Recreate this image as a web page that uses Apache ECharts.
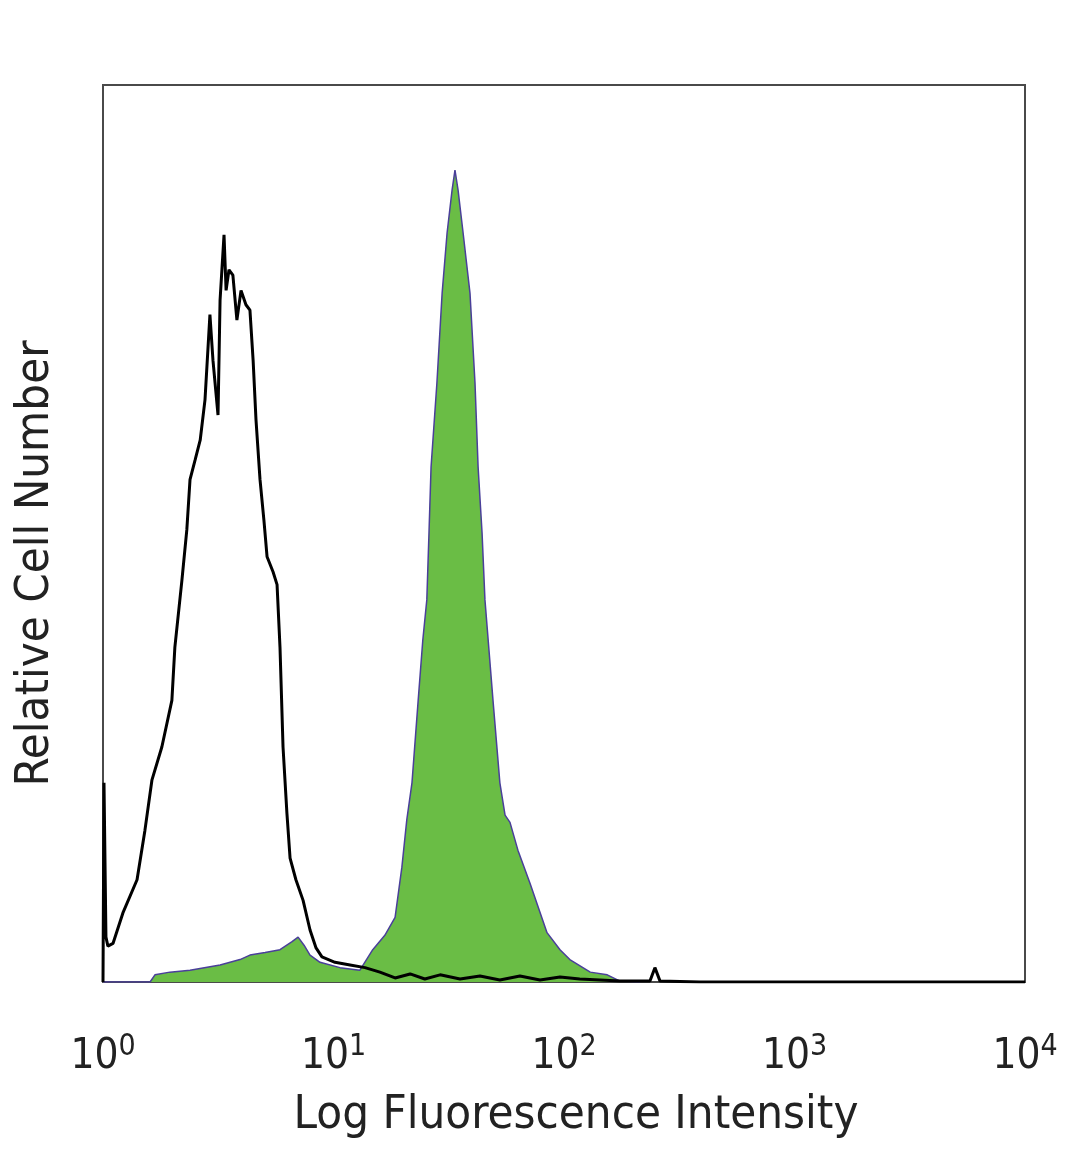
<!DOCTYPE html>
<html>
<head>
<meta charset="utf-8">
<title>Log Fluorescence Intensity</title>
<script src="https://cdn.jsdelivr.net/npm/echarts@6/dist/echarts.min.js"></script>
<style>
  html, body { margin: 0; padding: 0; background: #fff; }
  #chart { width: 1080px; height: 1169px; }
</style>
</head>
<body>
<div id="chart"></div>
<script>
// isotype control (black outline)
const isotypeX = [1, 1.01, 1.03, 1.05, 1.105, 1.22, 1.405, 1.52, 1.63, 1.80, 1.99, 2.05, 2.20, 2.31, 2.385,
  2.51, 2.64, 2.77, 2.91, 3.00, 3.155, 3.22, 3.35, 3.42, 3.52, 3.66, 3.81, 3.97, 4.17, 4.34, 4.48, 4.61,
  4.80, 4.99, 5.15, 5.47, 5.69, 5.86, 6.04, 6.28, 6.48, 6.87, 7.38, 7.91, 8.40, 8.91, 10.15, 11.8, 13.7,
  15.9, 18.5, 21.5, 24.9, 29.0, 35.4, 43.2, 52.7, 64.4, 78.7, 96.1, 117, 143, 175, 236, 248, 261, 389, 10000];
const isotypeY = [0, 22.2, 5.0, 4.0, 4.3, 7.7, 11.4, 16.9, 22.5, 26.2, 31.4, 37.3, 44.8, 50.4, 56.0,
  58.2, 60.4, 64.9, 74.4, 69.3, 63.2, 76.0, 83.3, 77.1, 79.4, 78.8, 73.8, 77.1, 75.5, 74.9, 69.3, 62.7,
  56.0, 51.5, 47.4, 45.7, 44.3, 37.3, 26.2, 18.8, 13.8, 11.4, 9.1, 5.8, 3.8, 2.8, 2.2, 1.9, 1.6,
  1.1, 0.45, 0.9, 0.33, 0.8, 0.33, 0.67, 0.22, 0.67, 0.22, 0.56, 0.33, 0.22, 0.1, 0.1, 1.6, 0.1, 0, 0];

// stained sample (green filled)
const stainedX = [1, 1.60, 1.68, 1.95, 2.385, 3.22, 3.93, 4.34, 5.05, 5.86, 6.61, 7.02, 7.45, 7.91, 8.74,
  10.67, 13.0, 14.8, 16.7, 18.5, 19.8, 20.8, 21.9, 23.3, 24.4, 25.4, 25.96, 26.5, 28.1, 29.6, 31.1, 32.7,
  33.65, 34.7, 36.5, 39.1, 41.1, 42.4, 44.1, 45.4, 49.2, 52.7, 55.5, 58.3, 63.1, 71.2, 84.4, 96.1, 106,
  130, 154, 175, 214];
const stainedY = [0, 0, 0.8, 1.1, 1.3, 1.9, 2.5, 3.0, 3.3, 3.6, 4.5, 5.0, 4.1, 3.0, 2.2,
  1.6, 1.3, 3.6, 5.2, 7.2, 12.8, 18.1, 22.2, 31.4, 38.1, 42.6, 50.1, 57.4, 66.8, 76.8, 83.5, 88.3,
  90.5, 88.3, 83.5, 76.8, 66.8, 57.4, 50.1, 42.6, 31.4, 22.2, 18.6, 17.8, 14.7, 11.0, 5.5, 3.6, 2.5,
  1.1, 0.8, 0.1, 0];

const tickExponents = ['0', '1', '2', '3', '4'];

const zip = (xs, ys) => xs.map((x, i) => [x, ys[i]]);

const chart = echarts.init(document.getElementById('chart'));

const labelFont = "'Liberation Sans Narrow', 'DejaVu Sans Condensed', 'Liberation Sans', sans-serif";

chart.setOption({
  animation: false,
  backgroundColor: '#fff',
  grid: {
    left: 103,
    right: 55,
    top: 85,
    bottom: 187,
    outerBoundsMode: 'none',
    containLabel: false,
    show: true,
    borderColor: '#4a4a4a',
    borderWidth: 2,
    backgroundColor: 'transparent'
  },
  xAxis: {
    type: 'log',
    logBase: 10,
    min: 1,
    max: 10000,
    axisLine: { show: false },
    axisTick: { show: false },
    splitLine: { show: false },
    axisLabel: {
      margin: 50,
      formatter: (v) => {
        const e = Math.round(Math.log10(v));
        return '{b|10}{s|' + tickExponents[e] + '}';
      },
      rich: {
        b: { fontFamily: labelFont, fontSize: 42, color: '#222' },
        s: { fontFamily: labelFont, fontSize: 30, color: '#222', padding: [0, 0, 20, 0] }
      }
    },
    name: 'Log Fluorescence Intensity',
    nameLocation: 'middle',
    nameGap: 110,
    nameTextStyle: {
      fontFamily: labelFont,
      fontSize: 47,
      color: '#222',
      padding: [0, 0, 0, 24]
    }
  },
  yAxis: {
    type: 'value',
    min: 0,
    max: 100,
    axisLine: { show: false },
    axisTick: { show: false },
    axisLabel: { show: false },
    splitLine: { show: false },
    name: 'Relative Cell Number',
    nameLocation: 'middle',
    nameGap: 44,
    nameTextStyle: {
      fontFamily: labelFont,
      fontSize: 47,
      color: '#222',
      padding: [0, 60, 0, 0]
    }
  },
  series: [
    {
      name: 'stained',
      type: 'line',
      data: zip(stainedX, stainedY),
      showSymbol: false,
      lineStyle: { color: '#4a3f9a', width: 1.5 },
      areaStyle: { color: '#6abd45', opacity: 1 },
      z: 2
    },
    {
      name: 'isotype',
      type: 'line',
      data: zip(isotypeX, isotypeY),
      showSymbol: false,
      lineStyle: { color: '#000', width: 3 },
      z: 3
    }
  ]
});
</script>
</body>
</html>
